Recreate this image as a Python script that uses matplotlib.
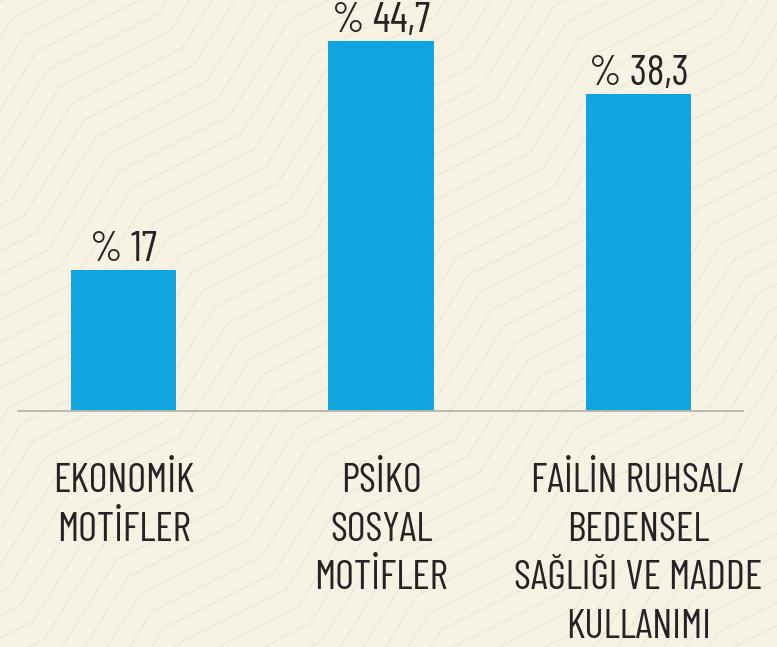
import numpy as np
import matplotlib
matplotlib.use("Agg")
import matplotlib.pyplot as plt
from matplotlib.lines import Line2D

categories = ["EKONOMİK\nMOTİFLER", "PSİKO\nSOSYAL\nMOTİFLER",
              "FAİLİN RUHSAL/\nBEDENSEL\nSAĞLIĞI VE MADDE\nKULLANIMI"]
values = [17, 44.7, 38.3]
value_labels = ["% 17", "% 44,7", "% 38,3"]

FONT = dict(family=["Barlow Condensed", "DejaVu Sans"], weight=400)

BG = "#f6f2e4"
BAR = "#10a5de"
TXT = "#262324"

W, H = 777, 647
fig = plt.figure(figsize=(W / 100, H / 100), dpi=100, facecolor=BG)

# faint zigzag background pattern (decorative)
def S(x, a=110.0, b=60.0, s1=0.5, s2=1.6):
    p = a + b
    n = np.floor(x / p)
    r = x - n * p
    per = a * s1 + b * s2
    return n * per + np.where(r < a, r * s1, a * s1 + (r - a) * s2)

xs = np.linspace(-60, W + 60, 800)
for o in np.arange(-900, 2200, 17):
    ys = o - S(xs - 0.7 * o)
    fig.add_artist(Line2D(xs / W, 1 - ys / H, transform=fig.transFigure,
                          color="#ece8d8", lw=0.9, zorder=0))

ax = fig.add_axes([18 / W, (H - 411) / H, (743 - 18) / W, 411 / H])
ax.set_facecolor("none")
x = np.arange(len(values))
ax.bar(x, values, width=0.408, color=BAR, zorder=2)
ax.set_xlim(-0.41, 2.406)
ax.set_ylim(0, 49.6)
for s in ["top", "right", "left"]:
    ax.spines[s].set_visible(False)
ax.spines["bottom"].set_color("#b8b5aa")
ax.spines["bottom"].set_linewidth(1.3)
ax.set_yticks([])
ax.set_xticks([])

for xi, v, lab in zip(x, values, value_labels):
    ax.annotate(lab, (xi, v), xytext=(0, 0), textcoords="offset points",
                ha="center", va="bottom", fontsize=30, color=TXT, **FONT,
                annotation_clip=False)

for xi, cat in zip(x, categories):
    ax.annotate(cat, (xi, 0), xytext=(0, -37.5), textcoords="offset points",
                ha="center", va="top", fontsize=29.3, color=TXT,
                linespacing=1.4, **FONT, annotation_clip=False)

fig.savefig("out.png", dpi=100, facecolor=BG)
